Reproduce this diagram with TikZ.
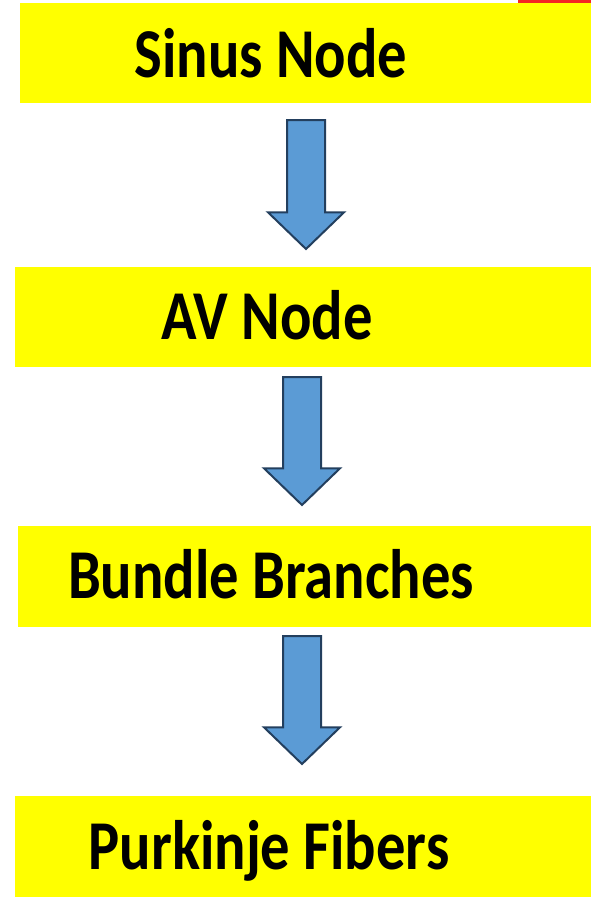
\documentclass[tikz,border=0pt]{standalone}
\usepackage{fontspec}
\setmainfont{Carlito}
\usetikzlibrary{shapes,arrows,calc,positioning}
\definecolor{stageyellow}{HTML}{FFFF00}
\definecolor{flowblue}{HTML}{5B9BD5}
\definecolor{flowedge}{HTML}{233F5E}
\definecolor{cornerred}{HTML}{F42424}
\tikzset{
  stage/.style={fill=stageyellow, inner sep=0pt, anchor=north west},
  stagetext/.style={anchor=base, font=\fontsize{70}{80}\selectfont\bfseries, inner sep=0pt, xscale=0.837},
  flowarrow/.style={single arrow, fill=flowblue, draw=flowedge, line width=2pt,
    rotate=-90, anchor=tail, inner xsep=0pt, inner ysep=18pt,
    minimum height=129pt, minimum width=75pt,
    single arrow head extend=19pt, single arrow tip angle=92, single arrow head indent=0pt}
}

\begin{document}
\begin{tikzpicture}[x=1pt,y=-1pt]
            \useasboundingbox (0,0) rectangle (591,897);
            \fill[cornerred] (518,0) rectangle (591,3);
            % stages
            \draw (20,3) node[stage, minimum width=571pt, minimum height=100pt] (sinus) {};
            \draw (15,267) node[stage, minimum width=576pt, minimum height=100pt] (av) {};
            \draw (18,526) node[stage, minimum width=573pt, minimum height=101pt] (bundle) {};
            \draw (15,796) node[stage, minimum width=576pt, minimum height=101pt] (purkinje) {};
            \draw (271,77) node[stagetext] (sinustext) {Sinus Node};
            \draw (267,339) node[stagetext] (avtext) {AV Node};
            \draw (271,598) node[stagetext] (bundletext) {Bundle Branches};
            \draw (269,869) node[stagetext] (purkinjetext) {Purkinje Fibers};
            % arrows
            \draw (306,119) node[flowarrow] (sinustoav) {};
            \draw (302,376) node[flowarrow, minimum height=128pt] (avtobundle) {};
            \draw (302,635) node[flowarrow, minimum height=128pt] (bundletopurkinje) {};
        \end{tikzpicture}
\end{document}
